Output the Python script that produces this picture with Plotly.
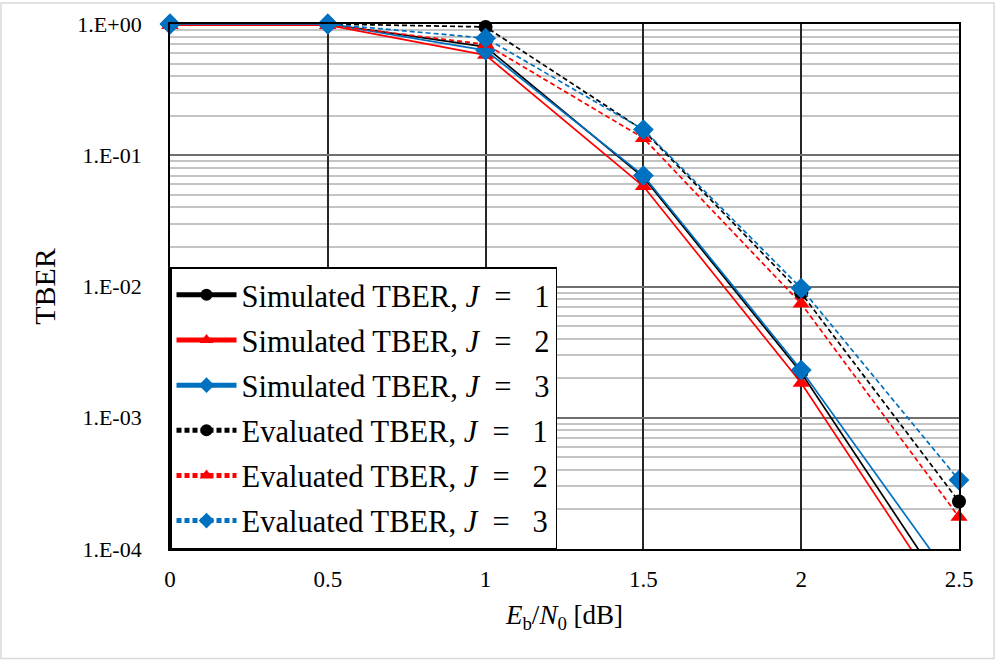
import plotly.graph_objects as go

# Eb/N0 grid [dB]
ebn0 = [0, 0.5, 1, 1.5, 2, 2.5]

# Simulated total bit error rate
sim_j1 = [1.0, 1.0, 0.67, 0.068, 0.0022, 3.4e-5]
sim_j2 = [0.98, 0.98, 0.58, 0.058, 0.00184, 2.8e-5]
sim_j3 = [1.0, 1.0, 0.63, 0.070, 0.00231, 4.9e-5]

# Evaluated (analytical) total bit error rate
eva_j1 = [1.0, 1.0, 0.95, 0.155, 0.0089, 2.3e-4]
eva_j2 = [0.98, 0.98, 0.70, 0.135, 0.0074, 1.75e-4]
eva_j3 = [1.0, 1.0, 0.78, 0.157, 0.0097, 3.35e-4]

y_tick_vals = [1, 1e-1, 1e-2, 1e-3, 1e-4]
y_tick_text = ["1.E+00", "1.E-01", "1.E-02", "1.E-03", "1.E-04"]
x_tick_vals = [0, 0.5, 1, 1.5, 2, 2.5]
x_tick_text = ["0", "0.5", "1", "1.5", "2", "2.5"]

BLACK, RED, BLUE = "#000000", "#ff0000", "#0070c0"
SERIF = "Liberation Serif, Times New Roman, serif"
DASH = "5px,3px"
EQ = "&nbsp;&nbsp;=&nbsp;&nbsp;&nbsp;"

series = [
    (f"Simulated TBER, <i>J</i>{EQ}1", sim_j1, BLACK, "circle", 14, "solid"),
    (f"Simulated TBER, <i>J</i>{EQ}2", sim_j2, RED, "triangle-up", 15, "solid"),
    (f"Simulated TBER, <i>J</i>{EQ}3", sim_j3, BLUE, "diamond", 16, "solid"),
    (f"Evaluated TBER, <i>J</i>{EQ}1", eva_j1, BLACK, "circle", 14, DASH),
    (f"Evaluated TBER, <i>J</i>{EQ}2", eva_j2, RED, "triangle-up", 15, DASH),
    (f"Evaluated TBER, <i>J</i>{EQ}3", eva_j3, BLUE, "diamond", 16, DASH),
]

fig = go.Figure()
for i, (name, ys, color, sym, size, dash) in enumerate(series):
    fig.add_trace(go.Scatter(
        x=ebn0, y=ys, name=name, mode="lines+markers",
        line=dict(color=color, width=1.7, dash=dash),
        marker=dict(color=color, symbol=sym, size=size, line=dict(width=0)),
        cliponaxis=False, legendgroup=f"g{i}",
    ))

# minor grid values 2..9 within each decade
minor_vals = [m * 10.0 ** e for e in range(-4, 0) for m in range(2, 10)]

W, H = 996, 661
ml, mr, mt, mb = 170, 37, 22, 112
pw, ph = W - ml - mr, H - mt - mb

fig.update_layout(
    width=W, height=H,
    margin=dict(l=ml, r=mr, t=mt, b=mb, pad=0),
    paper_bgcolor="white", plot_bgcolor="white",
    font=dict(family=SERIF, color="black", size=22),
    showlegend=True,
    legend=dict(
        x=0, y=0, xanchor="left", yanchor="bottom",
        bgcolor="white", bordercolor="black", borderwidth=1.5,
        font=dict(family=SERIF, size=30.5, color="black"),
        itemwidth=60, tracegroupgap=2.5, itemsizing="constant",
    ),
    xaxis=dict(
        range=[0, 2.5], tickvals=x_tick_vals, ticktext=x_tick_text,
        showgrid=True, gridcolor="#262626", gridwidth=2,
        showline=True, linecolor="black", linewidth=1.8, mirror=True,
        zeroline=False, ticks="", ticklabelstandoff=8,
        tickfont=dict(size=23),
        title=dict(text="<i>E</i><sub>b</sub>/<i>N</i><sub>0</sub> [dB]",
                   font=dict(size=27), standoff=15),
    ),
    yaxis=dict(
        type="log", range=[-4, 0], tickvals=y_tick_vals, ticktext=y_tick_text,
        showgrid=True, gridcolor="#6f6f6f", gridwidth=2,
        minor=dict(tickmode="array", tickvals=minor_vals, showgrid=True,
                   gridcolor="#c4c4c4", gridwidth=1.5, ticks=""),
        showline=True, linecolor="black", linewidth=1.8, mirror=True,
        zeroline=False, ticks="", ticklabelstandoff=22,
        title=dict(text="TBER", font=dict(size=30), standoff=13),
    ),
    shapes=[dict(
        type="rect", xref="paper", yref="paper",
        x0=(1 - ml) / pw, x1=(W - 2 - ml) / pw,
        y0=(H - mb - (H - 2)) / ph, y1=(H - mb - 1) / ph,
        line=dict(color="#d9d9d9", width=1.5), fillcolor="rgba(0,0,0,0)",
        layer="below",
    )],
)

fig.write_html("out.html")
